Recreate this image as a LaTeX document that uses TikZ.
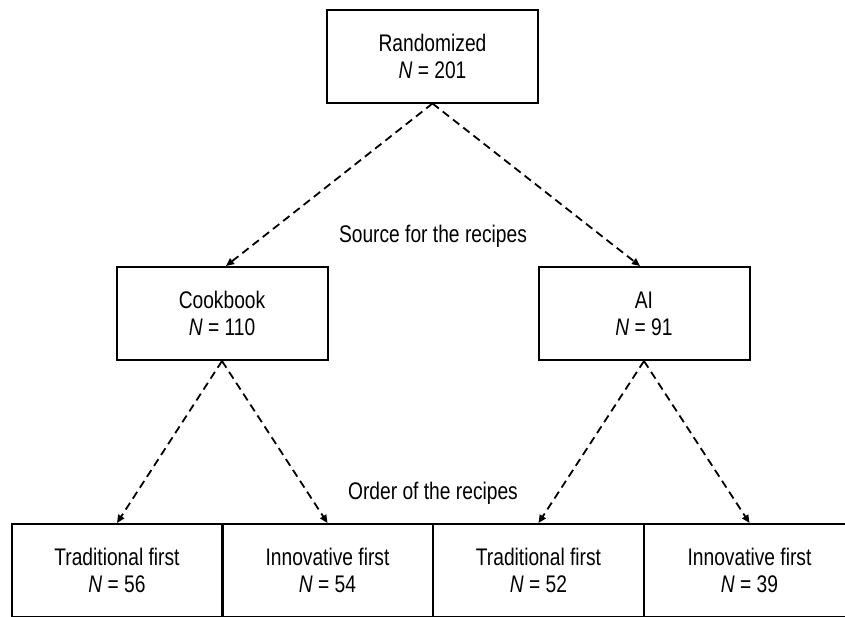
\documentclass[tikz,border=0pt]{standalone}
\usepackage{fontspec}
\setmainfont[FakeStretch=0.8]{Liberation Sans}
\usetikzlibrary{arrows.meta}
\begin{document}
\begin{tikzpicture}[x=1pt,y=-1pt,
  box/.style={draw, line width=2pt, minimum width=211pt, minimum height=93pt, inner sep=0pt, align=center, font=\fontsize{24}{27}\selectfont},
  lbl/.style={font=\fontsize{24}{27}\selectfont},
  link/.style={draw, line width=1.8pt, dash pattern=on 8pt off 5pt, -{Triangle[length=8pt,width=7pt]}}]
\clip (0,0) rectangle (845,616);
\node[box] (rand) at (432.5,56) {Randomized\\\textit{N} = 201};
\node[box] (cook) at (222,313.5) {Cookbook\\\textit{N} = 110};
\node[box] (ai) at (644,313.5) {AI\\\textit{N} = 91};
\node[box] (t1) at (117,570.5) {Traditional first\\\textit{N} = 56};
\node[box] (i1) at (327.5,570.5) {Innovative first\\\textit{N} = 54};
\node[box] (t2) at (538.5,570.5) {Traditional first\\\textit{N} = 52};
\node[box] (i2) at (749.5,570.5) {Innovative first\\\textit{N} = 39};
\node[lbl] (src) at (433,236) {Source for the recipes};
\node[lbl] (ord) at (433,493) {Order of the recipes};
\draw[link] (rand.south) -- ([xshift=4pt]cook.north);
\draw[link] (rand.south) -- ([xshift=-4pt]ai.north);
\draw[link] (cook.south) -- (t1.north);
\draw[link] (cook.south) -- (i1.north);
\draw[link] (ai.south) -- (t2.north);
\draw[link] (ai.south) -- (i2.north);
\end{tikzpicture}
\end{document}
